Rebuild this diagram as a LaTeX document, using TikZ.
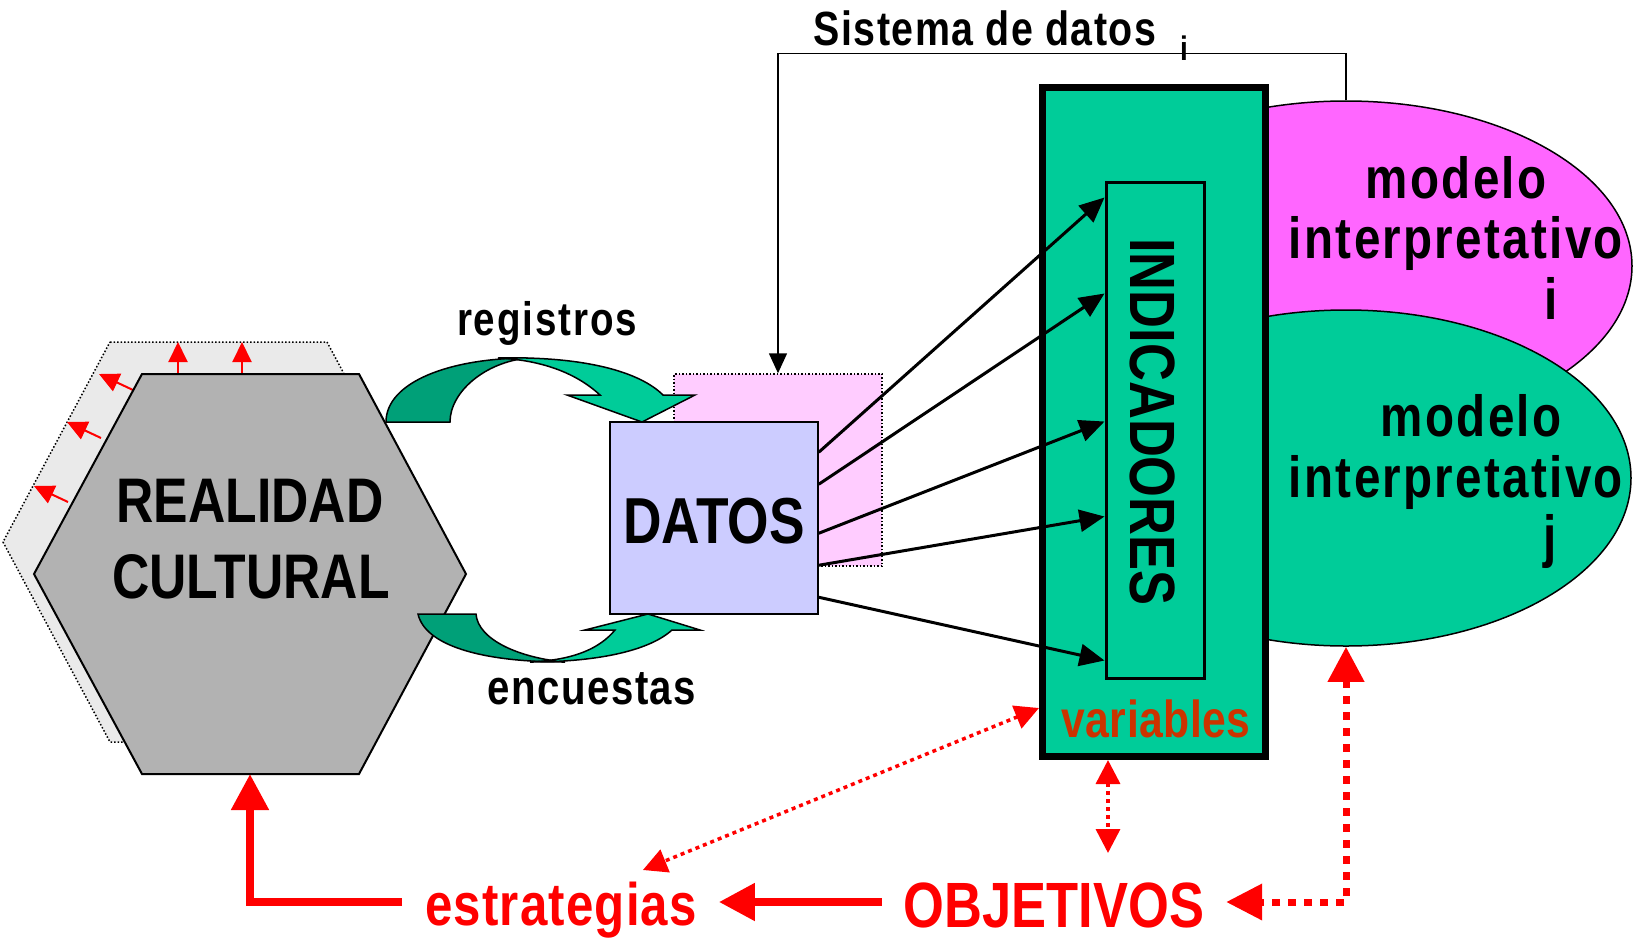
\documentclass[tikz,border=0pt]{standalone}
\usepackage{fontspec}
\setmainfont{Liberation Sans}[FakeStretch=0.82]
\usetikzlibrary{arrows.meta,shapes.geometric,calc}
\definecolor{tgreen}{HTML}{00CC99}
\definecolor{dgreen}{HTML}{00A078}
\definecolor{magel}{HTML}{FF66FF}
\definecolor{pinkl}{HTML}{FFCCFF}
\definecolor{lavend}{HTML}{CCCCFF}
\definecolor{hgray}{HTML}{B2B2B2}
\definecolor{lgray}{HTML}{EAEAEA}
\definecolor{rred}{HTML}{FF0000}
\definecolor{varred}{HTML}{CC3300}
\newcommand\tfs[2]{\fontsize{#1}{#1}\selectfont\bfseries\addfontfeature{LetterSpace=#2}}
\begin{document}
\begin{tikzpicture}[x=1pt,y=-1pt,
  txt/.style={inner sep=0pt, outer sep=0pt, anchor=base},
  blk/.style={line width=3pt, -{Triangle[length=25pt,width=22pt]}},
  thinarr/.style={line width=1.5pt, -{Triangle[length=20pt,width=18pt]}},
  smallred/.style={draw=rred, line width=2pt, -{Triangle[length=20pt,width=19pt]}, rred},
  redsolid/.style={draw=rred, line width=8pt, -{Triangle[length=36pt,width=36pt]}, rred},
  redthick/.style={draw=rred, line width=7pt, dash pattern=on 8pt off 8pt, {Triangle[length=35pt,width=35pt]}-{Triangle[length=36pt,width=35pt]}, rred},
  redthin/.style={draw=rred, line width=3.5pt, dash pattern=on 4pt off 4pt, {Triangle[length=24pt,width=24pt]}-{Triangle[length=24pt,width=24pt]}, rred}
]
\useasboundingbox (0,0) rectangle (1634,938);
\fill[white] (0,0) rectangle (1634,938);

% shadow hexagon
\draw[fill=lgray, dotted, line width=1.5pt] (110,342) -- (327,342) -- (434,542) -- (327,742) -- (110,742) -- (3,542) -- cycle;
% small red arrows
\draw[smallred] (178,374) -- (178,342);
\draw[smallred] (242,374) -- (242,342);
\draw[smallred] (133,390) -- (99,374);
\draw[smallred] (101,438) -- (67,422);
\draw[smallred] (68,502) -- (34,486);
% main hexagon
\draw[fill=hgray, line width=2pt] (142,374) -- (359,374) -- (466,574) -- (359,774) -- (142,774) -- (34,574) -- cycle;
\coordinate (hexb) at (250,774);
\node[txt, font=\tfs{63}{0}] (real1) at (250,522) {REALIDAD};
\node[txt, font=\tfs{63}{0}] (real2) at (251,598) {CULTURAL};

% pink dotted rectangle and DATOS
\node[draw, dotted, line width=1.5pt, fill=pinkl, minimum width=208pt, minimum height=192pt, inner sep=0pt] (prect) at (778,470) {};
\node[draw, line width=1.5pt, fill=lavend, minimum width=208pt, minimum height=192pt, inner sep=0pt] (datos) at (714,518) {};
\node[txt, font=\tfs{65}{0}] (datost) at (714,543) {DATOS};

% curved arrows
\draw[fill=dgreen, line width=1.5pt] (386,422) .. controls (386,382) and (450,358) .. (528,358) .. controls (485,362) and (450,392) .. (450,422) -- cycle;
\draw[fill=tgreen, line width=1.5pt] (498,358) .. controls (585,356) and (640,372) .. (663,395) -- (695,395) -- (642,422) -- (567,395) -- (600,395) .. controls (575,372) and (540,360) .. (498,358) -- cycle;
\draw[fill=dgreen, line width=1.5pt] (418,614) .. controls (425,645) and (480,662) .. (565,662) .. controls (520,658) and (478,640) .. (476,614) -- cycle;
\draw[fill=tgreen, line width=1.5pt] (530,662) .. controls (600,662) and (650,650) .. (672,630) -- (700,630) -- (648,614) -- (585,630) -- (615,630) .. controls (600,648) and (575,660) .. (530,662) -- cycle;
\node[txt, font=\tfs{47}{4}] (reg) at (547,335) {registros};
\node[txt, font=\tfs{49}{3}] (enc) at (592,704) {encuestas};

% ellipses
\node[ellipse, draw, line width=1.5pt, fill=magel, minimum width=572pt, minimum height=330pt, inner sep=0pt] (pel) at (1346,266) {};
\node[ellipse, draw, line width=1.5pt, fill=tgreen, minimum width=570pt, minimum height=336pt, inner sep=0pt] (gel) at (1346,478) {};
\node[txt, font=\tfs{58}{4}] (m1a) at (1456,198) {modelo};
\node[txt, font=\tfs{58}{4}] (m1b) at (1456,258) {interpretativo};
\node[txt, font=\tfs{58}{4}] (m1c) at (1551,319) {i};
\node[txt, font=\tfs{58}{4}] (m2a) at (1471,436) {modelo};
\node[txt, font=\tfs{58}{4}] (m2b) at (1456,497) {interpretativo};
\node[txt, font=\tfs{58}{4}] (m2c) at (1550,556) {j};

% INDICADORES boxes
\node[draw, line width=7pt, fill=tgreen, minimum width=223pt, minimum height=669pt, inner sep=0pt] (ind) at (1154,422) {};
\node[draw, line width=3pt, fill=tgreen, minimum width=98pt, minimum height=496pt, inner sep=0pt] (inner) at (1155,430) {};
\node[inner sep=0pt, rotate=-90, font=\tfs{64}{0}] (indt) at (1153,422) {INDICADORES};
\node[txt, font=\tfs{52}{1}, text=varred] (var) at (1156,737) {variables};

% Sistema de datos
\node[txt, font=\tfs{48}{3}] (sist) at (985,45) {Sistema de datos};
\node[txt, font=\tfs{34}{0}] (sisti) at (1184,60) {i};
\draw[thinarr] (pel.north) -- ++(0,-47) -| (prect.north);

% arrows DATOS -> INDICADORES
\draw[blk] ([yshift=-31pt]datos.north east) -- ([yshift=-17pt]inner.north west);
\draw[blk] ([yshift=-63pt]datos.north east) -- ([yshift=-113pt]inner.north west);
\draw[blk] ([yshift=-112pt]datos.north east) -- ([yshift=-241pt]inner.north west);
\draw[blk] ([yshift=-144pt]datos.north east) -- ([yshift=-336pt]inner.north west);
\draw[blk] ([yshift=-176pt]datos.north east) -- ([yshift=-480pt]inner.north west);

% bottom texts
\node[txt, font=\tfs{60}{2}, text=rred] (estr) at (561,925) {estrategias};
\node[txt, font=\tfs{64}{0}, text=rred] (obj) at (1054,927) {OBJETIVOS};
\coordinate (objtip) at ($(obj.base east)+(22,-25)$);
\coordinate (vend) at ($(ind.south)+(-46,93)$);

\draw[redsolid] ($(obj.base west)+(-22,-25)$) -- ($(estr.base east)+(22,-23)$);
\draw[redsolid] ($(estr.base west)+(-23,-23)$) -| (hexb);
\draw[redthin] ([yshift=52pt]ind.south west) -- ($(estr.base east)+(-54,-55)$);
\draw[redthin] ([xshift=-46pt]ind.south) -- (vend);
\draw[redthick] (gel.south) |- (objtip);
\end{tikzpicture}
\end{document}
